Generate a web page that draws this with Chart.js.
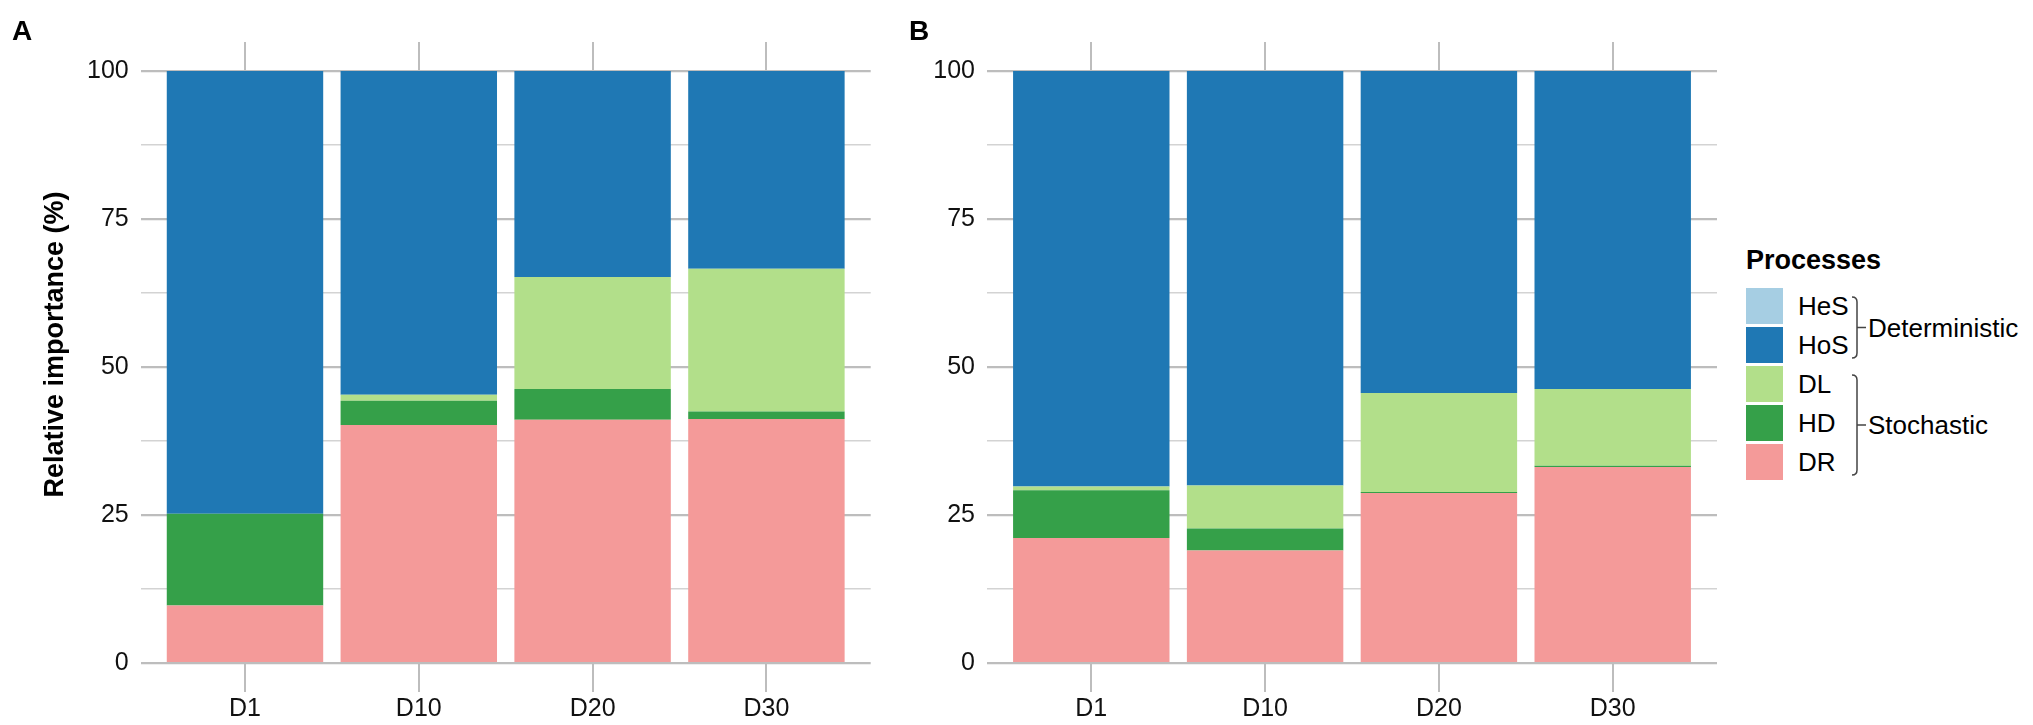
<!DOCTYPE html>
<html><head><meta charset="utf-8">
<script src="https://cdn.jsdelivr.net/npm/chart.js@4.4.1/dist/chart.umd.min.js"></script>
<style>
html,body{margin:0;padding:0;background:#fff;}
#wrap{position:relative;width:2033px;height:725px;overflow:hidden;font-family:'Liberation Sans',Arial,Helvetica,sans-serif;color:#000;background:#fff;}
canvas{position:absolute;top:0;}
.panel{position:absolute;font-weight:bold;font-size:28px;line-height:28px;}
.leg{position:absolute;white-space:nowrap;}
.legtitle{font-weight:bold;font-size:27px;line-height:27px;}
.sw{position:absolute;width:37px;height:36px;}
.lab{font-size:26px;height:36px;line-height:36px;}
svg{position:absolute;left:0;top:0;}
</style></head>
<body><div id="wrap">
<canvas id="cA" width="890" height="725" style="left:0px;width:890px;height:725px"></canvas>
<canvas id="cB" width="860" height="725" style="left:880px;width:860px;height:725px"></canvas>
<div class="panel" style="left:12px;top:17px">A</div>
<div class="panel" style="left:909px;top:17px">B</div>
<div id="legend"></div>
</div>
<script>
// ---- data ----
const categories = ['D1', 'D10', 'D20', 'D30'];
const seriesNames = ['HeS', 'HoS', 'DL', 'HD', 'DR'];          // legend order (top to bottom)
const seriesColors = ['#a6cee3', '#1f78b4', '#b2df8a', '#35a049', '#f49a99'];
const groupNames = ['Deterministic', 'Stochastic'];
const groupMembers = [['HeS', 'HoS'], ['DL', 'HD', 'DR']];
const yTickLabels = [0, 25, 50, 75, 100];
const yTitle = 'Relative importance (%)';
const legendTitle = 'Processes';

// Panel A
const A_HeS = [0, 0, 0, 0];
const A_HoS = [74.8, 54.7, 34.8, 33.4];
const A_DL  = [0, 1.0, 18.9, 24.1];
const A_HD  = [15.5, 4.1, 5.2, 1.3];
const A_DR  = [9.7, 40.2, 41.1, 41.2];

// Panel B
const B_HeS = [0, 0, 0, 0];
const B_HoS = [70.2, 70.0, 54.4, 53.7];
const B_DL  = [0.6, 7.3, 16.7, 13.0];
const B_HD  = [8.1, 3.7, 0.2, 0.2];
const B_DR  = [21.1, 19.0, 28.7, 33.1];

// ---- chart building ----
Chart.defaults.font.family = "'Liberation Sans', Arial, Helvetica, sans-serif";
Chart.defaults.color = '#111';

const GRID_MAJOR = '#bdbdbd';
const GRID_MINOR = '#d3d3d3';

function xAxis(position, showLabels) {
  return {
    type: 'linear',
    position: position,
    min: 0.4, max: 4.6,
    offset: false,
    stacked: true,
    border: { display: false },
    grid: { offset: false, drawOnChartArea: false, drawTicks: true, tickLength: 29, color: GRID_MAJOR, lineWidth: 2 },
    afterBuildTicks: (s) => { s.ticks = categories.map((c, i) => ({ value: i + 1 })); },
    ticks: {
      display: showLabels,
      autoSkip: false, maxRotation: 0, padding: 2,
      font: { size: 25 }, color: '#111',
      callback: (v) => categories[Math.round(v) - 1] || ''
    },
    afterFit: (s) => { s.height = position === 'top' ? 71 : 62; }
  };
}

function makeChart(canvasId, values, yWidth, rightPad, withTitle) {
  // stacking order bottom -> top is the reverse of legend order
  const order = seriesNames.slice().reverse();
  const datasets = order.map(name => {
    const idx = seriesNames.indexOf(name);
    return {
      label: name,
      data: values[name].map((v, i) => ({ x: i + 1, y: v })),
      backgroundColor: seriesColors[idx],
      borderWidth: 0,
      barPercentage: 0.9,
      categoryPercentage: 1.0
    };
  });
  return new Chart(document.getElementById(canvasId), {
    type: 'bar',
    data: { datasets },
    options: {
      responsive: false,
      animation: false,
      devicePixelRatio: 1,
      layout: { padding: { left: 0, right: rightPad, top: 0, bottom: 0 } },
      plugins: { legend: { display: false }, tooltip: { enabled: false } },
      scales: {
        x: xAxis('bottom', true),
        xTop: Object.assign(xAxis('top', false), { axis: 'x' }),
        y: {
          type: 'linear',
          min: 0, max: 100,
          stacked: true,
          border: { display: false },
          afterBuildTicks: (s) => {
            const t = [];
            for (let v = 0; v <= 100; v += 12.5) t.push({ value: v });
            s.ticks = t;
          },
          grid: {
            drawTicks: false,
            color: (c) => (c.tick && yTickLabels.includes(c.tick.value)) ? GRID_MAJOR : GRID_MINOR,
            lineWidth: (c) => (c.tick && yTickLabels.includes(c.tick.value)) ? 2.2 : 1.6
          },
          ticks: {
            padding: 12,
            font: { size: 25 }, color: '#111',
            autoSkip: false,
            callback: (v) => yTickLabels.includes(v) ? String(v) : ''
          },
          title: {
            display: withTitle,
            // leading spaces shift the visible title slightly upward, as in the original figure
            text: '      ' + yTitle,
            font: { size: 27, weight: 'bold' },
            color: '#000',
            padding: { top: 39, bottom: 0 }
          },
          afterFit: (s) => { s.width = yWidth; }
        }
      }
    }
  });
}

const valuesA = { HeS: A_HeS, HoS: A_HoS, DL: A_DL, HD: A_HD, DR: A_DR };
const valuesB = { HeS: B_HeS, HoS: B_HoS, DL: B_DL, HD: B_HD, DR: B_DR };

makeChart('cA', valuesA, 140.7, 19.3, true);
makeChart('cB', valuesB, 107, 23, false);

// ---- legend (HTML) ----
(function buildLegend() {
  const leg = document.getElementById('legend');
  const left = 1746, top0 = 288, pitch = 39;
  const t = document.createElement('div');
  t.className = 'leg legtitle';
  t.style.left = left + 'px'; t.style.top = '247px';
  t.textContent = legendTitle;
  leg.appendChild(t);
  seriesNames.forEach((name, i) => {
    const sw = document.createElement('div');
    sw.className = 'sw';
    sw.style.left = left + 'px';
    sw.style.top = (top0 + i * pitch) + 'px';
    sw.style.background = seriesColors[i];
    leg.appendChild(sw);
    const lb = document.createElement('div');
    lb.className = 'leg lab';
    lb.style.left = '1798px';
    lb.style.top = (top0 + i * pitch) + 'px';
    lb.textContent = name;
    leg.appendChild(lb);
  });
  const svgNS = 'http://www.w3.org/2000/svg';
  const svg = document.createElementNS(svgNS, 'svg');
  svg.setAttribute('width', '2033'); svg.setAttribute('height', '725');
  svg.style.pointerEvents = 'none';
  groupNames.forEach((g, gi) => {
    const members = groupMembers[gi].map(n => seriesNames.indexOf(n));
    const first = Math.min(...members), last = Math.max(...members);
    const y1 = top0 + first * pitch + 9;
    const y2 = top0 + last * pitch + 36 - 5;
    const ym = (y1 + y2) / 2;
    const x = 1857, xc = 1852, xt = 1866;
    const p = document.createElementNS(svgNS, 'path');
    p.setAttribute('d', `M${xc},${y1} Q${x},${y1} ${x},${y1 + 5} L${x},${y2 - 5} Q${x},${y2} ${xc},${y2} M${x},${ym} L${xt},${ym}`);
    p.setAttribute('fill', 'none');
    p.setAttribute('stroke', '#444');
    p.setAttribute('stroke-width', '1.5');
    svg.appendChild(p);
    const lb = document.createElement('div');
    lb.className = 'leg lab';
    lb.style.left = '1868px';
    lb.style.top = (ym - 18) + 'px';
    lb.textContent = g;
    leg.appendChild(lb);
  });
  document.getElementById('wrap').appendChild(svg);
})();
</script>
</body></html>
